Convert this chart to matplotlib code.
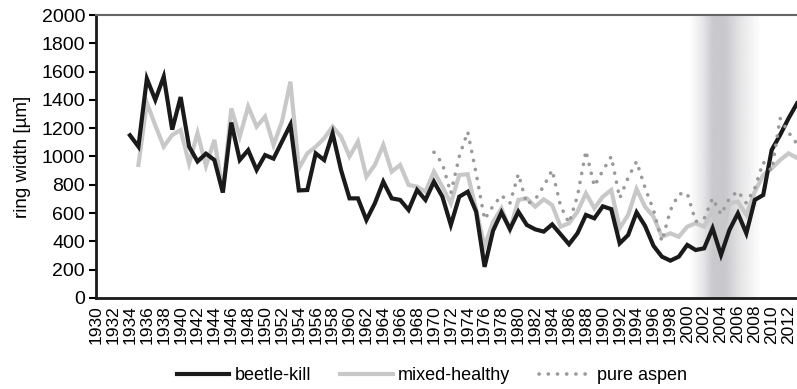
import numpy as np
import matplotlib
matplotlib.use('Agg')
import matplotlib.pyplot as plt
from matplotlib.colors import to_rgb

plt.rcParams['font.family'] = ['Liberation Sans', 'DejaVu Sans']

# ring width [um]
years_beetle = list(range(1934, 2014))
beetle_kill = [1150, 1070, 1550, 1400, 1565, 1190, 1420, 1070, 965, 1020,
               975, 745, 1240, 975, 1045, 905, 1010, 985, 1105, 1225,
               760, 763, 1022, 975, 1164, 904, 704, 704, 551, 669,
               822, 704, 693, 622, 763, 693, 822, 716, 516, 716,
               751, 610, 220, 475, 605, 487, 610, 516, 485, 469,
               520, 450, 380, 457, 587, 563, 648, 628, 386, 445,
               605, 510, 369, 292, 264, 292, 375, 339, 351, 493,
               304, 481, 598, 457, 693, 728, 1046, 1152, 1270, 1375]

years_mixed = list(range(1935, 2014))
mixed_healthy = [940, 1380, 1220, 1070, 1152, 1187, 951, 1166, 933, 1117,
                 751, 1340, 1140, 1353, 1211, 1282, 1081, 1246, 1529, 916,
                 1022, 1069, 1128, 1211, 1140, 1000, 1105, 857, 940, 1081,
                 893, 940, 799, 787, 751, 893, 787, 669, 869, 875,
                 622, 365, 539, 634, 481, 693, 704, 645, 697, 657,
                 504, 528, 610, 740, 634, 716, 763, 493, 587, 770,
                 645, 575, 433, 457, 433, 504, 528, 504, 622, 433,
                 669, 681, 587, 751, 869, 916, 975, 1022, 990]

years_aspen = list(range(1970, 2014))
pure_aspen = [1030, 950, 740, 1000, 1175, 880, 555, 650, 725, 670,
              876, 664, 697, 790, 904, 650, 530, 720, 1040, 790,
              900, 1000, 705, 850, 965, 780, 622, 400, 620, 735,
              740, 540, 560, 705, 590, 705, 755, 670, 775, 960,
              900, 1270, 1170, 1090]

tick_years = list(range(1930, 2013, 2))

fig = plt.figure(figsize=(7.97, 3.89), dpi=100)
ax = fig.add_axes([0.1207, 0.234, 0.8793, 0.7274])

# shaded gradient band (outbreak period)
band_x = np.linspace(2000.3, 2008.6, 200)
alpha = np.interp(band_x, [2000.3, 2001.8, 2003.0, 2004.4, 2006.3, 2008.6],
                  [0.0, 0.45, 1.0, 1.0, 0.45, 0.0])
rgba = np.zeros((1, len(band_x), 4))
rgba[..., :3] = to_rgb('#c9c9cd')
rgba[..., 3] = alpha
ax.imshow(rgba, extent=[2000.3, 2008.6, 0, 2000], aspect='auto',
          interpolation='bilinear', zorder=0)

ax.plot(years_mixed, mixed_healthy, color='#c8c8c8', lw=3.0,
        solid_joinstyle='miter', label='mixed-healthy', zorder=2)
ax.plot(years_beetle, beetle_kill, color='#1a1a1a', lw=3.0,
        solid_joinstyle='miter', label='beetle-kill', zorder=3)
ax.plot(years_aspen, pure_aspen, color='#9a9a9a', lw=2.6,
        linestyle=(0, (0.05, 2.5)), dash_capstyle='round',
        label='pure aspen', zorder=4)

ax.set_xlim(1930, 2013)
ax.set_ylim(0, 2000)
ax.set_yticks(range(0, 2001, 200))
ax.set_xticks(tick_years)
ax.set_xticklabels([str(y) for y in tick_years], rotation=90)
ax.set_xticks(range(1930, 2014, 4), minor=True)
ax.tick_params(axis='x', which='major', length=0, pad=5, labelsize=12.5)
ax.tick_params(axis='x', which='minor', length=5, width=1.5, direction='out')
ax.tick_params(axis='y', length=5, width=1.5, direction='out', labelsize=14, pad=3)

for s in ['left', 'bottom']:
    ax.spines[s].set_linewidth(2)
    ax.spines[s].set_color('#1a1a1a')
ax.spines['top'].set_color('#666666')
ax.spines['top'].set_linewidth(1.5)
ax.spines['right'].set_visible(False)

ax.set_ylabel('ring width [µm]', fontsize=13.5)
ax.yaxis.set_label_coords(-0.093, 0.5)

handles, labels = ax.get_legend_handles_labels()
order = [1, 0, 2]
fig.legend([handles[i] for i in order], [labels[i] for i in order],
           loc='center', bbox_to_anchor=(432 / 797, 1 - 376 / 389),
           ncol=3, frameon=False, fontsize=13, handlelength=2.9,
           columnspacing=1.6, handletextpad=0.3)

fig.savefig('out.png', dpi=100)
